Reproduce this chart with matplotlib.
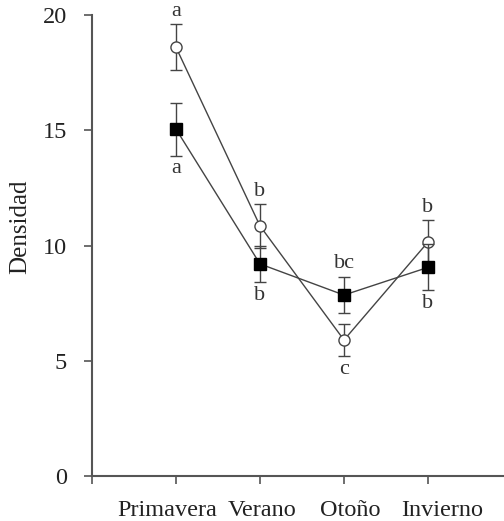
import numpy as np
import matplotlib.pyplot as plt
from matplotlib.transforms import ScaledTranslation

plt.rcParams['font.family'] = ['Liberation Serif', 'DejaVu Serif']

# Densidad por estación, dos grupos con error estándar
estaciones = ['Primavera', 'Verano', 'Otoño', 'Invierno']
abiertos = [18.6, 10.85, 5.9, 10.15]
abiertos_err = [1.0, 0.95, 0.7, 0.95]
cerrados = [15.05, 9.2, 7.85, 9.05]
cerrados_err = [1.15, 0.8, 0.8, 1.0]
letras_arriba = ['a', 'b', 'bc', 'b']
letras_abajo = ['a', 'b', 'c', 'b']

x = np.arange(1, len(estaciones) + 1)
gris = '#444444'

fig = plt.figure(figsize=(5.04, 5.21), dpi=100)
ax = fig.add_axes([92/504, 45/521, 412/504, 461/521])

ax.errorbar(x, abiertos, yerr=abiertos_err, fmt='-o', color=gris, lw=1,
            mfc='white', mec=gris, ms=8, mew=1, capsize=4, elinewidth=1, zorder=3)
ax.errorbar(x, cerrados, yerr=cerrados_err, fmt='-s', color=gris, lw=1,
            mfc='black', mec='black', ms=8.5, capsize=4, elinewidth=1, zorder=4)

# letras de significación: sobre el punto más alto y bajo el más bajo
for xi, a, ae, c, ce, la, lb in zip(x, abiertos, abiertos_err, cerrados, cerrados_err,
                                    letras_arriba, letras_abajo):
    alto = max(a + ae, c + ce)
    bajo = min(a - ae, c - ce)
    ax.text(xi, alto + 0.15, la, ha='center', va='bottom', fontsize=16, color='#333333')
    ax.text(xi, bajo - 0.15, lb, ha='center', va='top', fontsize=16, color='#333333')

ax.set_xlim(0, 4.905)
ax.set_ylim(0, 20)
ax.set_xticks(np.arange(0, len(estaciones) + 1))
ax.set_xticklabels([''] + estaciones)
ax.set_yticks([0, 5, 10, 15, 20])
ax.set_ylabel('Densidad', fontsize=18, color='#222222')
ax.yaxis.set_label_coords(-0.148, 0.54)

for s in ['top', 'right']:
    ax.spines[s].set_visible(False)
for s in ['left', 'bottom']:
    ax.spines[s].set_color('#555555')
    ax.spines[s].set_linewidth(1.5)
ax.tick_params(axis='both', direction='out', length=6, width=1.2, color='#555555',
               labelsize=17.5, labelcolor='#222222')
ax.tick_params(axis='x', pad=11)
ax.tick_params(axis='y', pad=12)

# nombres de estación algo desplazados respecto a sus marcas
desplaz = [0, -9, 2, 6, 14]
for lab, dx in zip(ax.get_xticklabels(), desplaz):
    lab.set_transform(lab.get_transform() + ScaledTranslation(dx / 100, 0, fig.dpi_scale_trans))

fig.savefig('out.png', dpi=100)
